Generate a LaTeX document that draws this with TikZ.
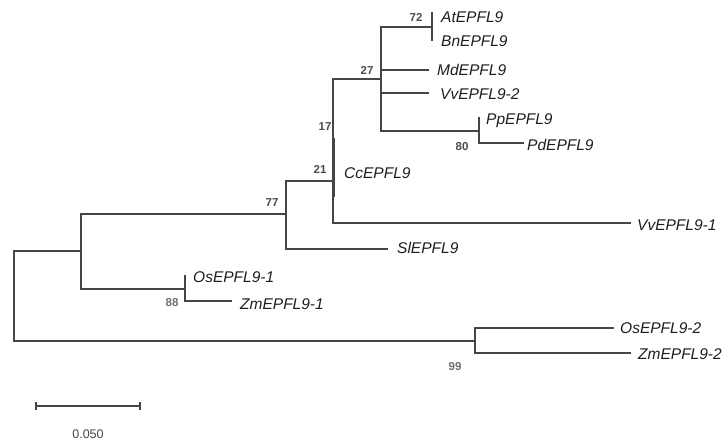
\documentclass[tikz,border=0pt]{standalone}
\usepackage{fontspec}
\setmainfont{Liberation Sans}
\definecolor{branch}{HTML}{454545}
\definecolor{tiptext}{HTML}{1E1E1E}
\definecolor{bootA}{HTML}{4A4A4A}
\definecolor{bootB}{HTML}{6E6E6E}
\tikzset{
  br/.style={draw=branch, line width=1.1pt, line cap=rect},
  tiplab/.style={anchor=west, inner sep=0pt, text=tiptext, font=\fontsize{15.5}{18}\selectfont\itshape},
  bootlab/.style={anchor=center, inner sep=0pt, text=bootA, font=\fontsize{11.5}{13}\selectfont\bfseries},
  bootlabl/.style={bootlab, text=bootB},
  scalelab/.style={anchor=center, inner sep=0pt, text=branch, font=\fontsize{12.5}{14}\selectfont}
}
\begin{document}
\begin{tikzpicture}[x=1pt,y=-1pt]
\useasboundingbox (0,0) rectangle (727,441);
% internal nodes
\coordinate (r) at (14,296);
\coordinate (nA) at (81,251);
\coordinate (n77) at (286,214);
\coordinate (n21) at (333,181);
\coordinate (n17) at (333,138);
\coordinate (n27) at (381,79);
\coordinate (n72) at (432,27);
\coordinate (n80) at (479,131);
\coordinate (n88) at (185,289);
\coordinate (n99) at (475,341);
% tips
\coordinate (tAt) at (432,13);
\coordinate (tBn) at (432,40);
\coordinate (tMd) at (428,70);
\coordinate (tVv2) at (428,93);
\coordinate (tPp) at (479,118);
\coordinate (tPd) at (523,143);
\coordinate (tCc) at (333,197);
\coordinate (tVv1) at (630,223);
\coordinate (tSl) at (387,249);
\coordinate (tOs1) at (185,276);
\coordinate (tZm1) at (231,301);
\coordinate (tOs2) at (613,328);
\coordinate (tZm2) at (630,353);
% branches
\draw[br] (r) |- (nA);
\draw[br] (r) |- (n99);
\draw[br] (nA) |- (n77);
\draw[br] (nA) |- (n88);
\draw[br] (n88) |- (tOs1);
\draw[br] (n88) |- (tZm1);
\draw[br] (n77) |- (n21);
\draw[br] (n77) |- (tSl);
\draw[br] (n21) |- (n17);
\draw[br] (n21) |- (tVv1);
\draw[br] (n17) |- (n27);
\draw[draw=branch, line width=3pt] (n17) -- (tCc);
\draw[br] (n27) |- (n72);
\draw[br] (n27) |- (tMd);
\draw[br] (n27) |- (tVv2);
\draw[br] (n27) |- (n80);
\draw[br] (n72) |- (tAt);
\draw[br] (n72) |- (tBn);
\draw[br] (n80) |- (tPp);
\draw[br] (n80) |- (tPd);
\draw[br] (n99) |- (tOs2);
\draw[br] (n99) |- (tZm2);
% tip labels
\node[tiplab] (lAt) at (441,17) {AtEPFL9};
\node[tiplab] (lBn) at (441,41) {BnEPFL9};
\node[tiplab] (lMd) at (437,70) {MdEPFL9};
\node[tiplab] (lVv2) at (440,94) {VvEPFL9-2};
\node[tiplab] (lPp) at (486,121) {PpEPFL9};
\node[tiplab] (lPd) at (527,145) {PdEPFL9};
\node[tiplab] (lCc) at (344,173) {CcEPFL9};
\node[tiplab] (lVv1) at (637,225) {VvEPFL9-1};
\node[tiplab] (lSl) at (397,248) {SlEPFL9};
\node[tiplab] (lOs1) at (193,277) {OsEPFL9-1};
\node[tiplab] (lZm1) at (240,304) {ZmEPFL9-1};
\node[tiplab] (lOs2) at (620,328) {OsEPFL9-2};
\node[tiplab] (lZm2) at (638,354) {ZmEPFL9-2};
% bootstrap values
\node[bootlab] (b72) at (416,17) {72};
\node[bootlab] (b27) at (367,70) {27};
\node[bootlab] (b17) at (325,127) {17};
\node[bootlab] (b21) at (320,169) {21};
\node[bootlab] (b77) at (272,203) {77};
\node[bootlab] (b80) at (462,147) {80};
\node[bootlabl] (b88) at (172,303) {88};
\node[bootlabl] (b99) at (455,367) {99};
% scale bar
\coordinate (s1) at (36,406);
\coordinate (s2) at (140,406);
\draw[br, line cap=butt] (s1) -- (s2);
\draw[br, line cap=butt] ([yshift=-4pt]s1) -- ([yshift=4pt]s1);
\draw[br, line cap=butt] ([yshift=-4pt]s2) -- ([yshift=4pt]s2);
\node[scalelab] (sl) at (88,434) {0.050};
\end{tikzpicture}
\end{document}
